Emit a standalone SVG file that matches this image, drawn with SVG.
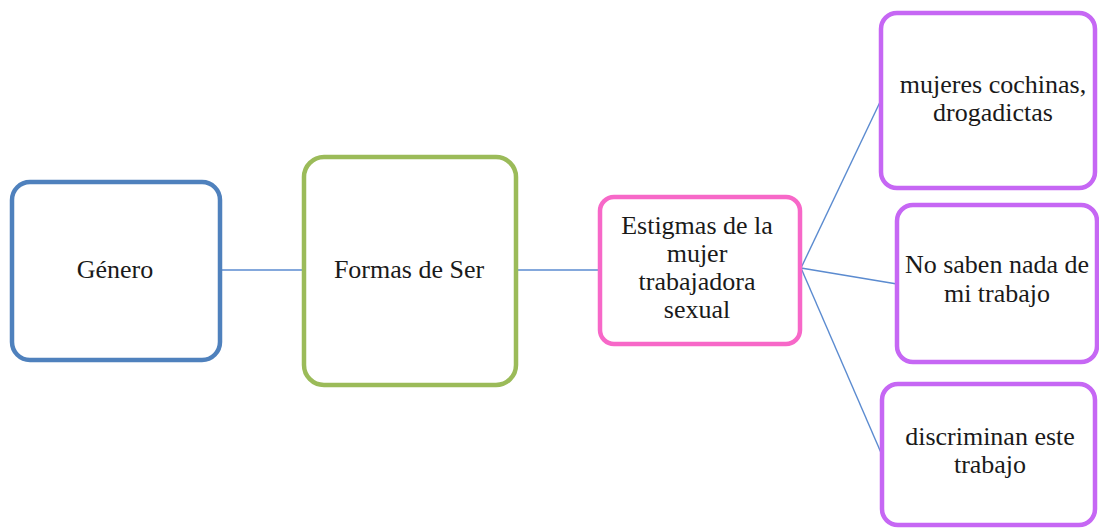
<svg xmlns="http://www.w3.org/2000/svg" width="1099" height="528" viewBox="0 0 1099 528">
<style>
.box{fill:#fff;stroke-width:4.5}
.t{font-family:"Liberation Serif","Times New Roman",serif;font-size:26px;fill:#1a1a1a;text-anchor:middle}
.c{stroke:#5b8bd0;stroke-width:1.4;fill:none}
</style>
<rect width="1099" height="528" fill="#fff"/>
<g id="connectors">
<line class="c" x1="222" y1="270" x2="304" y2="270"/>
<line class="c" x1="517" y1="270" x2="600" y2="270"/>
<line class="c" x1="801" y1="268" x2="881" y2="100"/>
<line class="c" x1="801" y1="268" x2="897" y2="284"/>
<line class="c" x1="801" y1="268" x2="882" y2="455"/>
</g>
<g id="genero">
<rect class="box" x="12" y="182" width="208" height="178" rx="18" stroke="#4f81bd"/>
<text class="t" x="115" y="278">Género</text>
</g>
<g id="formas">
<rect class="box" x="304" y="157" width="212" height="228" rx="20" stroke="#9bbb59"/>
<text class="t" x="409" y="278">Formas de Ser</text>
</g>
<g id="estigmas">
<rect class="box" x="600" y="197" width="200" height="147" rx="14" stroke="#f768c8"/>
<text class="t" x="697" y="234">Estigmas de la</text>
<text class="t" x="697" y="262">mujer</text>
<text class="t" x="697" y="290">trabajadora</text>
<text class="t" x="697" y="318">sexual</text>
</g>
<g id="mujeres">
<rect class="box" x="881" y="13" width="214" height="175" rx="16" stroke="#c667f4"/>
<text class="t" x="993" y="93">mujeres cochinas,</text>
<text class="t" x="993" y="121">drogadictas</text>
</g>
<g id="nosaben">
<rect class="box" x="897" y="205" width="200" height="157" rx="16" stroke="#c667f4"/>
<text class="t" x="997" y="273">No saben nada de</text>
<text class="t" x="997" y="302">mi trabajo</text>
</g>
<g id="discriminan">
<rect class="box" x="882" y="384" width="213" height="141" rx="16" stroke="#c667f4"/>
<text class="t" x="990" y="445">discriminan este</text>
<text class="t" x="990" y="473">trabajo</text>
</g>
</svg>
